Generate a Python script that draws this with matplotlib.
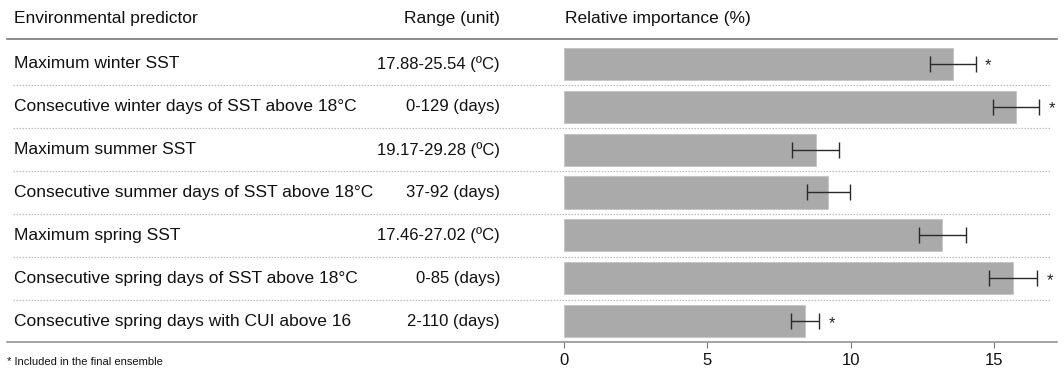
import matplotlib
matplotlib.use("Agg")
import matplotlib.pyplot as plt
from matplotlib.transforms import blended_transform_factory

plt.rcParams['font.family'] = ['Liberation Sans', 'DejaVu Sans']

predictors = [
    "Maximum winter SST",
    "Consecutive winter days of SST above 18\u00b0C",
    "Maximum summer SST",
    "Consecutive summer days of SST above 18\u00b0C",
    "Maximum spring SST",
    "Consecutive spring days of SST above 18\u00b0C",
    "Consecutive spring days with CUI above 16",
]
ranges = [
    "17.88-25.54 (\u00baC)",
    "0-129 (days)",
    "19.17-29.28 (\u00baC)",
    "37-92 (days)",
    "17.46-27.02 (\u00baC)",
    "0-85 (days)",
    "2-110 (days)",
]
importance = [13.58, 15.77, 8.79, 9.22, 13.20, 15.67, 8.41]
err_low = [12.77, 14.95, 7.96, 8.46, 12.39, 14.84, 7.91]
err_high = [14.36, 16.58, 9.59, 9.97, 14.01, 16.51, 8.91]
in_ensemble = [True, True, False, False, False, True, True]
xticks = [0, 5, 10, 15]

W, H = 1064, 370
fig = plt.figure(figsize=(W / 100, H / 100), dpi=100)

ax_left, ax_right = 540, 1057
ax_top, ax_bot = 39, 342
ax = fig.add_axes([ax_left / W, 1 - ax_bot / H, (ax_right - ax_left) / W, (ax_bot - ax_top) / H])

n = len(predictors)
ypos = list(range(n))
xerr = [[m - lo for m, lo in zip(importance, err_low)],
        [hi - m for m, hi in zip(importance, err_high)]]

ax.barh(ypos, importance, height=0.75, color='#aaaaaa', edgecolor='#c4c4c4', linewidth=0.6, zorder=2)
ax.errorbar(importance, ypos, xerr=xerr, fmt='none', ecolor='#2a2a2a', elinewidth=1.0,
            capsize=5.5, capthick=1.0, zorder=3)
for y, hi, star in zip(ypos, err_high, in_ensemble):
    if star:
        ax.text(hi + 0.32, y + 0.05, "*", ha='left', va='center', fontsize=12, color='#222222')

ax.set_xlim(-0.84, 17.2)
ax.set_ylim(6.485, -0.578)
ax.set_xticks(xticks)
ax.set_xticklabels([str(t) for t in xticks], fontsize=12)
ax.set_yticks([])
for s in ['top', 'right', 'left', 'bottom']:
    ax.spines[s].set_visible(False)
ax.tick_params(axis='x', length=4, width=0.8, color='#777777', pad=4, labelcolor='#111111')

tr = blended_transform_factory(fig.transFigure, ax.transData)

# separators
for i in range(n - 1):
    ax.plot([13 / W, 1050 / W], [i + 0.5, i + 0.5], transform=tr, color='#bdbdbd',
            lw=0.9, ls=(0, (1.2, 1.2)), clip_on=False, zorder=1)
# header line and bottom line
ax.plot([7 / W, ax_right / W], [-0.578, -0.578], transform=tr, color='#6a6a6a', lw=1.1, clip_on=False)
ax.plot([7 / W, ax_right / W], [6.485, 6.485], transform=tr, color='#8a8a8a', lw=1.1, clip_on=False)

# table text
fs = 12.5
for y, name, rng in zip(ypos, predictors, ranges):
    ax.text(14 / W, y, name, transform=tr, ha='left', va='center', fontsize=fs, color='#111111')
    ax.text(500 / W, y, rng, transform=tr, ha='right', va='center', fontsize=12, color='#111111')

hy = 1 - 19 / H
fig.text(14 / W, hy, "Environmental predictor", ha='left', va='center', fontsize=fs, color='#111111')
fig.text(500 / W, hy, "Range (unit)", ha='right', va='center', fontsize=fs, color='#111111')
fig.text(565 / W, hy, "Relative importance (%)", ha='left', va='center', fontsize=fs, color='#111111')
fig.text(7 / W, 1 - 362 / H, "* Included in the final ensemble", ha='left', va='center', fontsize=8,
         color='#111111')

fig.savefig("out.png", dpi=100)
